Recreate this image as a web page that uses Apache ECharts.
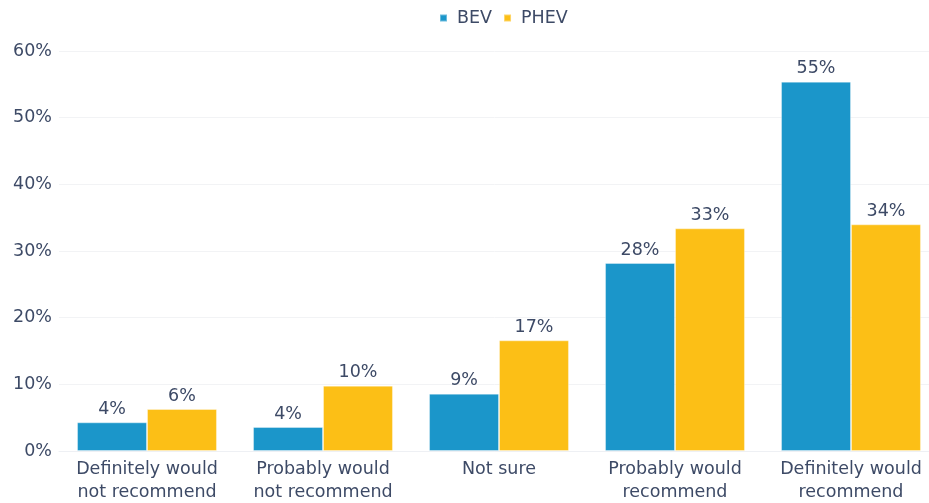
<!DOCTYPE html>
<html>
<head>
<meta charset="utf-8">
<script src="https://cdn.jsdelivr.net/npm/echarts@6/dist/echarts.min.js"></script>
<style>
  html, body { margin: 0; padding: 0; background: #ffffff; }
  #chart { width: 929px; height: 503px; }
</style>
</head>
<body>
<div id="chart"></div>
<script>
// Likelihood of recommending the vehicle type, share of respondents (%)
const categories = [
  'Definitely would\nnot recommend',
  'Probably would\nnot recommend',
  'Not sure',
  'Probably would\nrecommend',
  'Definitely would\nrecommend'
];
const bevValues  = [4.3, 3.6, 8.6, 28.2, 55.4];
const phevValues = [6.3, 9.8, 16.6, 33.4, 34.0];
const yTicks = { min: 0, max: 60, interval: 10 };

const textColor = '#3d4a66';
const font = '"DejaVu Sans", Verdana, sans-serif';

const chart = echarts.init(document.getElementById('chart'), null, { renderer: 'canvas' });

const labelOpt = {
  show: true,
  position: 'top',
  distance: 4,
  color: textColor,
  fontFamily: font,
  fontSize: 17.5,
  formatter: p => Math.round(p.value) + '%'
};

chart.setOption({
  animation: false,
  color: ['#1b96ca', '#fcbf16'],
  legend: {
    top: 4,
    left: 434,
    itemWidth: 7,
    itemHeight: 7,
    itemGap: 11,
    icon: 'rect',
    textStyle: { color: textColor, fontFamily: font, fontSize: 17.5, padding: [0, 0, 0, 5] },
    data: ['BEV', 'PHEV']
  },
  // plot runs slightly past the right edge of the canvas
  grid: { left: 59, top: 51, width: 880, height: 400, containLabel: false, outerBoundsMode: 'none' },
  xAxis: {
    type: 'category',
    data: categories,
    axisLine: { show: true, lineStyle: { color: '#eef0f4', width: 1 } },
    axisTick: { show: false },
    axisLabel: {
      color: textColor,
      fontFamily: font,
      fontSize: 17.5,
      lineHeight: 23,
      margin: 7,
      interval: 0
    }
  },
  yAxis: {
    type: 'value',
    min: yTicks.min,
    max: yTicks.max,
    interval: yTicks.interval,
    axisLine: { show: false },
    axisTick: { show: false },
    splitLine: { lineStyle: { color: '#f2f3f5', width: 1 } },
    axisLabel: {
      color: textColor,
      fontFamily: font,
      fontSize: 17.5,
      margin: 7,
      formatter: v => v + '%'
    }
  },
  series: [
    {
      name: 'BEV',
      type: 'bar',
      data: bevValues,
      barGap: '0%',
      barCategoryGap: '20.5%',
      itemStyle: { borderColor: 'rgba(255,255,255,0.35)', borderWidth: 1 },
      label: labelOpt
    },
    {
      name: 'PHEV',
      type: 'bar',
      data: phevValues,
      itemStyle: { borderColor: 'rgba(255,255,255,0.35)', borderWidth: 1 },
      label: labelOpt
    }
  ]
});
</script>
</body>
</html>
